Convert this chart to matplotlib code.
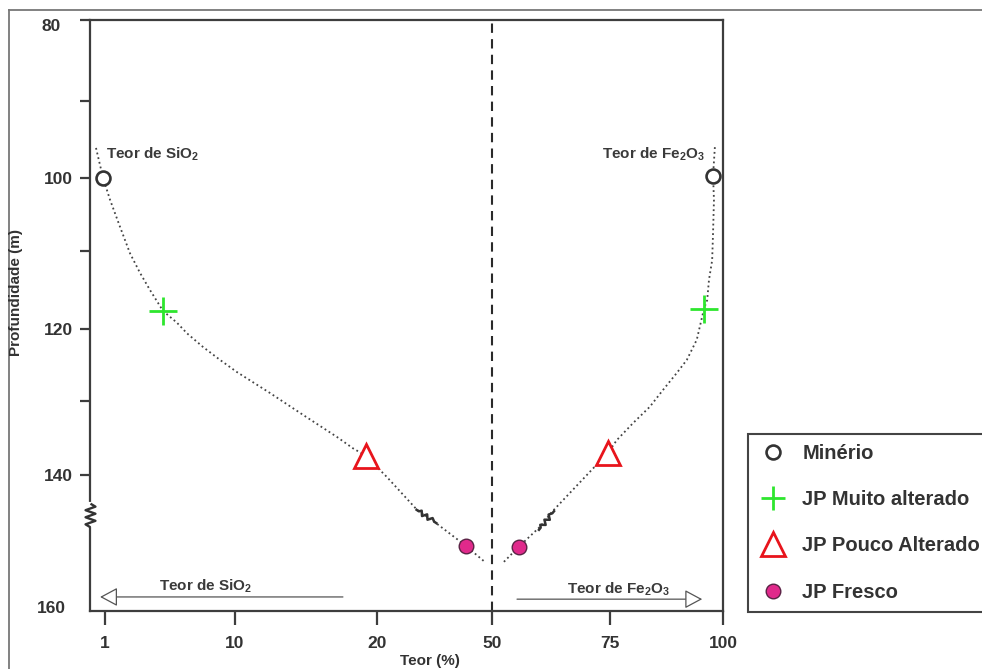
import numpy as np
import matplotlib
matplotlib.use('Agg')
import matplotlib.pyplot as plt
from matplotlib.lines import Line2D
from matplotlib.markers import MarkerStyle
from matplotlib.path import Path
from matplotlib.transforms import Affine2D

plt.rcParams['font.family'] = ['Liberation Sans', 'DejaVu Sans']
plt.rcParams['font.weight'] = 'bold'

# ---- hand-drawn (non-uniform) axis scales, anchors ----
TEOR_ANCHORS = [0, 1, 10, 20, 50, 75, 100]
TEOR_POS = [0, 15, 145, 287, 402, 520, 633]
DEPTH_ANCHORS = [80, 90, 100, 110, 120, 130, 140, 160]
DEPTH_POS = [0, 81, 158, 231, 309, 381, 455, 603]

x_ticks = [1, 10, 20, 50, 75, 100]
x_ticklabels = ['1', '10', '20', '50', '75', '100']
y_major = [80, 100, 120, 140]
y_minor = [90, 110, 130]

# ---- data ----
categories = ['Minério', 'JP Muito alterado', 'JP Pouco Alterado', 'JP Fresco']
sio2_teor = [0.87, 5.0, 19.2, 43.2]
sio2_depth = [100.0, 117.7, 137.4, 149.6]
fe2o3_teor = [97.8, 95.8, 74.6, 55.7]
fe2o3_depth = [99.7, 117.4, 137.0, 149.7]

# trend curves (dotted)
sio2_trend_teor = [0.4, 0.87, 1.35, 2.04, 2.73, 3.42, 4.11, 5.02, 5.98, 6.67, 7.78,
                   8.96, 10.14, 12.46, 14.8, 17.2, 18.3, 19.2, 22.6, 30.4, 35.1,
                   43.2, 48.2]
sio2_trend_depth = [96.1, 100.0, 103.0, 106.7, 110.3, 112.8, 115.0, 117.7, 119.2,
                    120.6, 122.5, 124.3, 126.0, 128.9, 131.9, 134.9, 136.4, 137.4,
                    140.3, 144.7, 146.4, 149.6, 151.8]
fe2o3_trend_teor = [98.2, 97.8, 98.0, 97.8, 97.6, 96.9, 96.5, 95.8, 95.6, 94.2, 92.0,
                    89.8, 86.7, 83.8, 80.1, 76.5, 74.6, 72.2, 62.7, 60.2, 55.7, 52.3]
fe2o3_trend_depth = [96.0, 99.7, 103.0, 107.5, 111.2, 113.7, 116.3, 117.4, 117.9,
                     121.5, 124.3, 126.1, 128.5, 130.8, 133.0, 135.3, 137.0, 138.6,
                     145.0, 147.0, 149.7, 151.9]

# break symbols (zigzag) positions
break_teor = [32.8, 61.4]
break_depth = [145.5, 146.1]
break_angle = [-34, 51]
axis_break_depth = 145.4

fig = plt.figure(figsize=(9.82, 6.69), dpi=100)
ax = fig.add_axes([90 / 982, 1 - 611 / 669, 633 / 982, 591 / 669])

def fx(v):
    return np.interp(v, TEOR_ANCHORS, TEOR_POS)

def ix(p):
    return np.interp(p, TEOR_POS, TEOR_ANCHORS)

def fy(v):
    return np.interp(v, DEPTH_ANCHORS, DEPTH_POS)

def iy(p):
    return np.interp(p, DEPTH_POS, DEPTH_ANCHORS)

ax.set_xscale('function', functions=(fx, ix))
ax.set_yscale('function', functions=(fy, iy))
ax.set_xlim(0, 100)
ax.set_ylim(158.4, 80)

DARK = '#3d3d3d'
for s in ax.spines.values():
    s.set_color(DARK)
    s.set_linewidth(1.6)

ax.set_xticks(x_ticks)
ax.set_xticklabels(x_ticklabels)
ax.xaxis.set_minor_locator(matplotlib.ticker.NullLocator())
ax.set_yticks(y_major)
ax.set_yticklabels([''] + [str(v) for v in y_major[1:]])
ax.set_yticks(y_minor, minor=True)
ax.tick_params(axis='x', which='both', direction='out', length=10, width=1.6,
               color=DARK, labelsize=12.5, labelcolor='#333333', pad=8)
ax.tick_params(axis='y', which='both', direction='out', length=7.5, width=1.6,
               color=DARK, labelsize=12.5, labelcolor='#333333', pad=5)
for lab in ax.get_xticklabels() + ax.get_yticklabels():
    lab.set_fontweight('bold')

# 80 and 160 labels (offset in the original)
ax.annotate('80', xy=(0, 80), xytext=(-27.7, -4.8), textcoords='offset points',
            ha='center', va='center', fontsize=12.5, fontweight='bold', color='#333333',
            annotation_clip=False)
ax.annotate('160', xy=(0, 158.4), xytext=(-27.7, 1.8), textcoords='offset points',
            ha='center', va='center', fontsize=12.5, fontweight='bold', color='#333333',
            annotation_clip=False)

# dashed centre line
ax.axvline(50, color='#2a2a2a', lw=1.5, ls=(0, (4.5, 3)), zorder=1)

# trend curves
ax.plot(sio2_trend_teor, sio2_trend_depth, ls=':', color='#444444', lw=1.3, zorder=2)
ax.plot(fe2o3_trend_teor, fe2o3_trend_depth, ls=':', color='#444444', lw=1.3, zorder=2)

# zigzag markers
zz = Path([(-1, 0), (-0.7, 0), (-0.55, 0.16), (-0.3, -0.16), (-0.05, 0.16),
           (0.2, -0.16), (0.45, 0.16), (0.7, 0), (1, 0)])
for t, d, a in zip(break_teor, break_depth, break_angle):
    m = MarkerStyle(zz, transform=Affine2D().rotate_deg(a))
    ax.plot([t], [d], marker=m, ms=19, mfc='none', mec='#333333', mew=1.8,
            ls='none', zorder=3)

zz_axis = Path([(-1, 0), (-0.75, 0.42), (-0.45, -0.42), (-0.15, 0.42), (0.15, -0.42),
                (0.45, 0.42), (0.75, -0.42), (1, 0)])
ax.plot([0, 0], [axis_break_depth - 1.4, axis_break_depth + 1.4], color='white', lw=3,
        zorder=3.5, clip_on=False)
m = MarkerStyle(zz_axis, transform=Affine2D().rotate_deg(90))
ax.plot([0], [axis_break_depth], marker=m, ms=17, mfc='none', mec='#333333', mew=1.7,
        ls='none', zorder=4, clip_on=False)

# markers
styles = [
    dict(marker='o', ms=10, mfc='white', mec='#333333', mew=1.9),
    dict(marker='+', ms=20, mfc='none', mec='#2ee62e', mew=2.0),
    dict(marker='^', ms=17, mfc='white', mec='#e8141c', mew=2.0),
    dict(marker='o', ms=10.5, mfc='#e0298b', mec='#5a2345', mew=1.0),
]
for i, st in enumerate(styles):
    ax.plot([sio2_teor[i]], [sio2_depth[i]], ls='none', zorder=5, **st)
    ax.plot([fe2o3_teor[i]], [fe2o3_depth[i]], ls='none', zorder=5, **st)

# labels at top of curves
ax.text(1.07, 96.9, 'Teor de SiO$_\\mathregular{2}$', ha='left', va='center',
        fontsize=11, fontweight='bold', color='#3a3a3a')
ax.text(96.0, 96.9, 'Teor de Fe$_\\mathregular{2}$O$_\\mathregular{3}$', ha='right',
        va='center', fontsize=11, fontweight='bold', color='#3a3a3a')

# bottom arrows
ap = dict(arrowstyle='-|>,head_length=1.08,head_width=0.58', fc='white', ec='#555555',
          lw=0.9, shrinkA=0, shrinkB=0, mutation_scale=10)
ax.annotate('', xy=(0.67, 156.5), xytext=(17.6, 156.5), arrowprops=ap)
ax.annotate('', xy=(95.4, 156.8), xytext=(55.3, 156.8), arrowprops=ap)
ax.text(8.0, 155.1, 'Teor de SiO$_\\mathregular{2}$', ha='center', va='center',
        fontsize=11, fontweight='bold', color='#3a3a3a')
ax.text(76.8, 155.5, 'Teor de Fe$_\\mathregular{2}$O$_\\mathregular{3}$', ha='center',
        va='center', fontsize=11, fontweight='bold', color='#3a3a3a')

# axis titles
fig.text(16 / 982, 1 - 292 / 669, 'Profundidade (m)', rotation=90, ha='center',
         va='center', fontsize=11, fontweight='bold', color='#333333')
fig.text(430 / 982, 4 / 669, 'Teor (%)', ha='center', va='baseline', fontsize=11,
         fontweight='bold', color='#333333')

# outer frame lines
fig.add_artist(Line2D([9 / 982, 1], [1 - 10 / 669] * 2, transform=fig.transFigure,
                      color='#777777', lw=1.3))
fig.add_artist(Line2D([9 / 982] * 2, [0, 1 - 10 / 669], transform=fig.transFigure,
                      color='#777777', lw=1.3))

# legend
handles = [Line2D([], [], ls='none', **st) for st in styles]
handles[1] = Line2D([], [], ls='none', marker='+', ms=17, mec='#2ee62e', mew=2.0)
leg = fig.legend(handles, categories, loc='upper left',
                 bbox_to_anchor=(748 / 982, 1 - 434 / 669), bbox_transform=fig.transFigure,
                 borderaxespad=0, fancybox=False, frameon=True, fontsize=14.5,
                 labelspacing=1.35, handlelength=1.5, handletextpad=0.7, borderpad=0.5,
                 framealpha=1)
leg.get_frame().set_edgecolor('#444444')
leg.get_frame().set_linewidth(1.5)
for t in leg.get_texts():
    t.set_fontweight('bold')
    t.set_color('#333333')

fig.savefig('out.png', dpi=100)
